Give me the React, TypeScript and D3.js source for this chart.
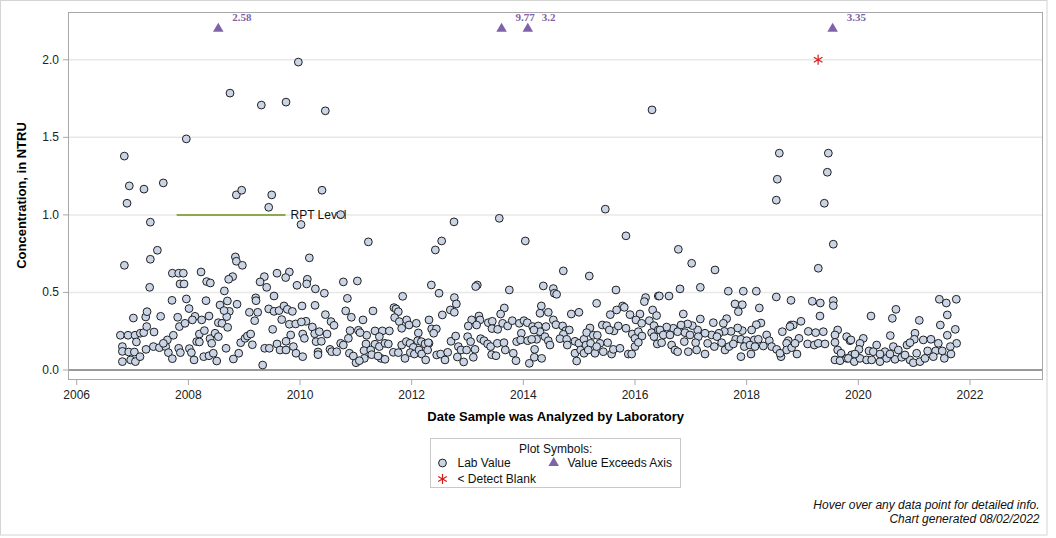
import React from "react";
import * as d3 from "d3";

// ---- data (decimal year, concentration in NTRU) ----
const labSamples: [number, number][] = [
  [2006.853,1.379],[2006.942,1.187],[2007.205,1.166],[2007.551,1.206],[2007.963,1.49],[2008.746,1.785],
  [2008.859,1.129],[2008.955,1.159],[2009.307,1.708],[2009.493,1.129],[2009.749,1.727],[2009.97,1.985],
  [2010.394,1.159],[2010.453,1.671],[2006.901,1.075],[2009.439,1.049],[2007.319,0.953],[2006.854,0.675],
  [2007.319,0.714],[2007.445,0.772],[2007.307,0.533],[2010.018,0.938],[2010.167,0.723],[2010.728,1.002],
  [2008.842,0.729],[2008.86,0.701],[2008.967,0.675],[2007.713,0.624],[2007.827,0.624],[2007.91,0.624],
  [2007.851,0.555],[2007.922,0.555],[2008.227,0.632],[2008.328,0.57],[2008.394,0.561],[2008.794,0.602],
  [2008.722,0.585],[2008.645,0.51],[2009.361,0.602],[2009.284,0.568],[2009.403,0.533],[2009.588,0.624],
  [2009.809,0.632],[2009.743,0.596],[2009.946,0.546],[2010.275,0.523],[2010.131,0.585],[2010.119,0.555],
  [2010.436,0.495],[2010.776,0.568],[2011.027,0.574],[2010.848,0.462],[2007.707,0.449],[2007.964,0.458],
  [2008.316,0.447],[2008.872,0.424],[2008.699,0.445],[2008.567,0.419],[2009.206,0.465],[2009.212,0.447],
  [2009.534,0.477],[2010.269,0.417],[2010.036,0.413],[2010.818,0.381],[2007.236,0.342],[2007.26,0.376],
  [2007.015,0.335],[2007.504,0.346],[2007.809,0.34],[2008.012,0.396],[2008.119,0.346],[2008.072,0.323],
  [2008.239,0.323],[2008.37,0.348],[2008.734,0.378],[2008.687,0.344],[2008.639,0.383],[2009.093,0.372],
  [2009.242,0.372],[2009.188,0.318],[2009.439,0.394],[2009.534,0.378],[2009.624,0.383],[2009.713,0.413],
  [2009.773,0.391],[2009.863,0.378],[2009.672,0.325],[2009.809,0.295],[2009.922,0.297],[2010.107,0.314],
  [2010.024,0.31],[2010.454,0.357],[2010.555,0.312],[2010.609,0.288],[2010.919,0.34],
  [2006.782,0.224],[2006.919,0.224],[2006.818,0.151],[2006.818,0.12],[2006.818,0.054],[2006.931,0.116],
  [2006.967,0.065],[2007.033,0.116],[2007.051,0.054],[2007.045,0.224],[2007.069,0.181],[2007.134,0.086],
  [2007.14,0.237],[2007.2,0.241],[2007.254,0.28],[2007.385,0.245],[2007.242,0.133],[2007.373,0.151],
  [2007.481,0.144],[2007.594,0.151],[2007.624,0.194],[2007.731,0.224],[2007.552,0.172],[2007.642,0.112],
  [2007.713,0.073],[2007.827,0.14],[2007.857,0.112],[2007.839,0.28],[2007.94,0.301],[2008.018,0.138],
  [2008.054,0.112],[2008.102,0.065],[2008.149,0.183],[2008.197,0.232],[2008.197,0.181],[2008.287,0.254],
  [2008.275,0.086],[2008.37,0.092],[2008.447,0.108],[2008.508,0.058],[2008.388,0.202],[2008.418,0.172],
  [2008.478,0.237],[2008.537,0.215],[2008.537,0.305],[2008.603,0.301],[2008.704,0.275],[2008.675,0.14],
  [2008.806,0.071],[2008.902,0.108],[2008.937,0.176],[2009.015,0.204],[2009.057,0.219],[2009.116,0.232],
  [2009.146,0.163],[2009.331,0.032],[2009.367,0.14],[2009.45,0.14],[2009.51,0.262],[2009.588,0.168],
  [2009.642,0.129],[2009.749,0.129],[2009.749,0.185],[2009.833,0.226],[2009.881,0.151],[2009.928,0.108],
  [2010.048,0.086],[2010.048,0.232],[2010.078,0.204],[2010.221,0.277],[2010.263,0.234],[2010.287,0.183],
  [2010.346,0.247],[2010.382,0.185],[2010.322,0.116],[2010.322,0.099],[2010.484,0.232],[2010.537,0.133],
  [2010.567,0.118],[2010.657,0.118],[2010.728,0.172],[2010.776,0.161],[2010.866,0.204],[2010.896,0.254],
  [2010.884,0.108],[2010.955,0.09],[2011.003,0.047],[2011.045,0.256],
  [2011.224,0.826],[2012.758,0.955],[2012.537,0.832],[2012.424,0.774],[2011.839,0.475],[2012.352,0.548],
  [2012.49,0.495],[2012.764,0.467],[2012.8,0.426],[2012.692,0.387],[2012.764,0.372],[2012.549,0.355],
  [2011.307,0.381],[2011.128,0.323],[2011.194,0.224],[2011.683,0.402],[2011.719,0.394],[2011.761,0.376],
  [2011.695,0.338],[2011.779,0.312],[2011.821,0.269],[2011.91,0.323],[2011.952,0.29],[2012.083,0.301],
  [2011.343,0.252],[2011.475,0.252],[2011.6,0.252],[2011.421,0.215],[2012.119,0.239],[2012.31,0.323],
  [2012.358,0.265],[2012.442,0.265],[2012.394,0.237],[2012.31,0.172],[2011.075,0.241],[2011.182,0.168],
  [2011.146,0.125],[2011.343,0.166],[2011.421,0.151],[2011.522,0.172],[2011.582,0.168],[2011.266,0.129],
  [2011.284,0.099],[2011.152,0.075],[2011.063,0.06],[2011.451,0.075],[2011.522,0.069],[2011.397,0.09],
  [2011.671,0.114],[2011.761,0.112],[2011.821,0.161],[2011.904,0.183],[2011.97,0.172],[2012.03,0.146],
  [2012.107,0.189],[2012.173,0.183],[2012.239,0.168],[2012.298,0.176],[2011.88,0.075],[2011.976,0.112],
  [2012.048,0.103],[2012.131,0.129],[2012.179,0.103],[2012.251,0.065],[2012.286,0.129],[2012.448,0.097],
  [2012.519,0.103],[2012.597,0.065],[2012.645,0.114],[2012.704,0.185],[2012.788,0.219],[2012.836,0.151],
  [2012.818,0.084],[2012.931,0.052],[2012.884,0.129],
  [2013.569,0.978],[2014.035,0.832],[2015.468,1.037],[2015.838,0.865],[2014.716,0.639],[2015.181,0.606],
  [2013.175,0.548],[2013.146,0.538],[2013.749,0.516],[2014.358,0.542],[2014.537,0.525],[2014.555,0.495],
  [2014.596,0.488],[2015.659,0.516],[2015.313,0.43],[2016.417,0.477],[2016.19,0.467],[2016.167,0.441],
  [2013.659,0.4],[2013.593,0.361],[2014.322,0.413],[2014.298,0.366],[2014.447,0.372],[2014.859,0.361],
  [2014.996,0.372],[2015.778,0.413],[2015.808,0.404],[2015.557,0.357],[2015.671,0.387],[2015.91,0.357],
  [2016.089,0.361],[2016.316,0.387],[2016.387,0.351],[2013.205,0.348],[2013.074,0.323],[2013.014,0.284],
  [2013.223,0.323],[2013.163,0.29],[2013.372,0.305],[2013.444,0.314],[2013.438,0.267],[2013.54,0.262],
  [2013.629,0.301],[2013.719,0.284],[2013.802,0.318],[2013.928,0.301],[2014.011,0.318],[2014.071,0.305],
  [2014.166,0.28],[2014.268,0.284],[2014.405,0.28],[2014.537,0.323],[2014.584,0.292],[2014.704,0.284],
  [2014.764,0.254],[2014.823,0.258],[2014.298,0.247],[2014.19,0.258],[2013.964,0.237],[2014.238,0.198],
  [2014.387,0.215],[2014.447,0.189],[2014.716,0.23],[2014.656,0.202],[2014.776,0.198],[2014.925,0.185],
  [2014.996,0.172],[2015.086,0.198],[2015.193,0.271],[2015.134,0.241],[2015.253,0.224],[2015.325,0.224],
  [2015.415,0.29],[2015.492,0.286],[2015.623,0.252],[2015.54,0.258],[2015.373,0.172],[2015.51,0.176],
  [2015.701,0.284],[2015.838,0.269],[2015.952,0.232],[2016.0,0.204],[2016.06,0.247],[2016.125,0.219],
  [2016.017,0.323],[2016.119,0.301],[2016.256,0.318],[2016.34,0.286],[2016.298,0.241],[2016.417,0.258],
  [2013.002,0.215],[2013.056,0.183],[2013.134,0.133],[2012.984,0.129],[2013.104,0.082],[2013.235,0.202],
  [2013.295,0.189],[2013.36,0.168],[2013.414,0.151],[2013.432,0.099],[2013.51,0.092],[2013.534,0.172],
  [2013.653,0.176],[2013.677,0.129],[2013.82,0.108],[2013.868,0.06],[2013.88,0.183],[2013.952,0.194],
  [2014.077,0.189],[2014.149,0.198],[2014.202,0.133],[2014.196,0.082],[2014.107,0.043],[2014.328,0.075],
  [2014.477,0.161],[2014.787,0.161],[2014.925,0.108],[2014.955,0.058],[2015.026,0.129],[2015.086,0.108],
  [2015.122,0.161],[2015.205,0.172],[2015.163,0.129],[2015.283,0.108],[2015.313,0.151],[2015.432,0.118],
  [2015.581,0.103],[2015.612,0.133],[2015.731,0.14],[2015.88,0.103],[2015.94,0.103],[2016.0,0.151],
  [2016.06,0.178],[2016.34,0.215],[2016.399,0.168],
  [2016.305,1.677],[2018.585,1.398],[2019.463,1.398],[2018.549,1.23],[2019.445,1.275],[2018.531,1.095],
  [2019.391,1.075],[2019.552,0.811],[2019.283,0.656],[2016.776,0.778],[2017.015,0.688],[2017.433,0.645],
  [2016.806,0.523],[2017.17,0.533],[2016.436,0.477],[2016.609,0.477],[2017.671,0.508],[2017.94,0.508],
  [2018.173,0.508],[2018.531,0.471],[2018.794,0.449],[2019.176,0.443],[2019.319,0.432],[2019.552,0.447],
  [2019.552,0.415],[2017.791,0.426],[2017.922,0.421],[2017.851,0.376],[2018.227,0.4],[2019.313,0.348],
  [2016.865,0.361],[2017.17,0.329],[2017.642,0.331],[2017.582,0.301],[2017.403,0.305],[2018.973,0.314],
  [2018.794,0.29],[2018.836,0.29],[2018.256,0.303],[2018.173,0.292],[2018.089,0.258],[2017.922,0.254],
  [2017.839,0.271],[2017.719,0.249],[2017.6,0.249],[2017.504,0.237],[2017.373,0.226],[2017.254,0.237],
  [2017.122,0.258],[2017.027,0.286],[2016.943,0.297],[2016.824,0.29],[2016.686,0.269],[2016.567,0.277],
  [2016.448,0.258],[2016.507,0.226],[2016.627,0.226],[2016.764,0.247],[2016.895,0.241],[2016.985,0.226],
  [2017.134,0.215],[2017.468,0.215],[2017.803,0.198],[2017.898,0.198],[2018.0,0.189],[2018.137,0.194],
  [2018.209,0.198],[2018.358,0.226],[2018.406,0.189],[2018.639,0.247],[2018.776,0.28],[2018.746,0.189],
  [2018.937,0.204],[2019.104,0.249],[2019.236,0.241],[2019.373,0.247],[2019.63,0.258],[2019.582,0.226],
  [2019.791,0.215],[2019.851,0.189],[2016.477,0.176],[2016.656,0.161],[2016.716,0.129],[2016.764,0.118],
  [2016.883,0.183],[2016.955,0.118],[2017.086,0.176],[2017.104,0.129],[2017.254,0.103],[2017.301,0.172],
  [2017.421,0.151],[2017.552,0.176],[2017.612,0.129],[2017.684,0.151],[2017.761,0.168],[2017.898,0.086],
  [2017.958,0.151],[2018.06,0.161],[2018.078,0.103],[2018.149,0.151],[2018.298,0.155],[2018.448,0.151],
  [2018.537,0.133],[2018.615,0.086],[2018.597,0.108],[2018.716,0.172],[2018.716,0.129],[2018.806,0.144],
  [2018.901,0.103],[2018.866,0.172],[2019.092,0.168],[2019.212,0.161],[2019.283,0.172],[2019.403,0.168],
  [2019.582,0.178],[2019.63,0.129],[2019.69,0.108],[2019.582,0.065],[2019.672,0.06],[2019.791,0.075],
  [2019.88,0.097],[2019.91,0.065],
  [2021.451,0.456],[2021.576,0.432],[2021.755,0.456],[2020.674,0.391],[2020.609,0.333],[2020.227,0.348],
  [2021.092,0.32],[2021.594,0.355],[2021.469,0.29],[2021.737,0.262],[2021.594,0.224],[2021.761,0.172],
  [2020.573,0.222],[2021.015,0.237],[2021.003,0.198],[2021.164,0.194],[2021.301,0.198],[2021.433,0.172],
  [2021.648,0.151],[2020.089,0.204],[2020.03,0.172],[2019.868,0.194],[2020.012,0.133],[2020.328,0.161],
  [2020.627,0.151],[2020.716,0.129],[2020.872,0.161],[2020.925,0.176],[2020.477,0.118],[2020.191,0.123],
  [2020.268,0.118],[2021.242,0.123],[2021.385,0.123],[2021.504,0.123],[2021.66,0.103],[2019.821,0.075],
  [2019.928,0.054],[2020.03,0.075],[2020.149,0.065],[2020.239,0.065],[2020.388,0.054],[2020.507,0.075],
  [2020.657,0.069],[2020.776,0.082],[2020.925,0.065],[2020.985,0.047],[2021.104,0.054],[2021.194,0.075],
  [2021.343,0.086],[2021.54,0.075],[2019.94,0.103],[2020.567,0.103],[2020.836,0.097],[2021.045,0.108],
  [2020.388,0.103],
];

const exceedDates = [2008.536, 2013.61, 2014.08, 2019.54];
const exceedValues = [2.58, 9.77, 3.2, 3.35];
const exceedPlotAt = 2.2;

const blankDates = [2019.28];
const blankValues = [2.0];

const rptLevel = 1.0;
const rptStart = 2007.79;
const rptEnd = 2009.74;

const xTicks = [2006, 2008, 2010, 2012, 2014, 2016, 2018, 2020, 2022];
const yTicks = [0, 0.5, 1.0, 1.5, 2.0];

const W = 1056, H = 538;
const L = 68, R = 1043, T = 12, B = 379;

const FONT = "'Liberation Sans', Arial, sans-serif";

function asterisk(cx: number, cy: number, r: number, color: string, key?: string) {
  const angles = [90, 30, 150];
  return (
    <g key={key}>
      {angles.map((a) => {
        const rad = (a * Math.PI) / 180;
        const dx = Math.cos(rad) * r, dy = Math.sin(rad) * r;
        return <line key={a} x1={cx - dx} y1={cy - dy} x2={cx + dx} y2={cy + dy} stroke={color} strokeWidth={1.2} />;
      })}
    </g>
  );
}

export default function App() {
  const x = d3.scaleLinear().domain([2005.844, 2023.308]).range([L, R]);
  const y = d3.scaleLinear().domain([-0.058, 2.308]).range([B, T]);
  const tri = d3.symbol().type(d3.symbolTriangle).size(48)()!;
  const purple = "#7f62a8";
  const circFill = "#c9d5e6";
  const circStroke = "#1f1f1f";

  return (
    <svg width={W} height={H} style={{ position: "absolute", left: 0, top: 0, background: "#fff" }} fontFamily={FONT}>
      <rect x={0.5} y={0.5} width={1046.5} height={534.5} fill="#fff" stroke="#d4d4d4" />
      {/* grid */}
      {yTicks.filter((t) => t > 0).map((t) => (
        <line key={t} x1={L + 1} x2={R - 1} y1={y(t)} y2={y(t)} stroke="#e8e8e8" strokeWidth={1.5} />
      ))}
      {/* zero line */}
      <line x1={L + 1} x2={R - 1} y1={y(0)} y2={y(0)} stroke="#9a9a9a" strokeWidth={2} />
      {/* frame */}
      <rect x={L + 0.5} y={T + 0.5} width={R - L - 1} height={B - T} fill="none" stroke="#a8a8a8" />
      {/* x axis ticks */}
      {xTicks.map((t) => (
        <g key={t}>
          <line x1={x(t)} x2={x(t)} y1={B + 0.5} y2={B + 6} stroke="#a8a8a8" />
          <text x={x(t)} y={395} textAnchor="middle" dominantBaseline="central" fontSize={12} fill="#222">{t}</text>
        </g>
      ))}
      {/* y axis ticks */}
      {yTicks.map((t) => (
        <g key={t}>
          <line x1={L - 5} x2={L} y1={y(t)} y2={y(t)} stroke="#a8a8a8" />
          <text x={L - 9} y={y(t)} textAnchor="end" dominantBaseline="central" fontSize={12} fill="#222">{t.toFixed(1)}</text>
        </g>
      ))}
      {/* axis titles */}
      <text x={555.7} y={416.5} textAnchor="middle" dominantBaseline="central" fontSize={13} fontWeight="bold" fill="#000">
        Date Sample was Analyzed by Laboratory
      </text>
      <text transform={`translate(21,${(T + B) / 2}) rotate(-90)`} textAnchor="middle" dominantBaseline="central" fontSize={13} fontWeight="bold" fill="#000">
        Concentration, in NTRU
      </text>
      {/* RPT level */}
      <line x1={x(rptStart)} x2={x(rptEnd)} y1={y(rptLevel)} y2={y(rptLevel)} stroke="#8aaa4c" strokeWidth={2} />
      <text x={x(rptEnd) + 5} y={y(rptLevel)} dominantBaseline="central" fontSize={12} fill="#111">RPT Level</text>
      {/* lab values */}
      {labSamples.map(([d, v], i) => (
        <circle key={i} cx={x(d)} cy={y(v)} r={3.9} fill={circFill} stroke={circStroke} strokeWidth={1} />
      ))}
      {/* exceed markers */}
      {exceedDates.map((d, i) => (
        <g key={i}>
          <path d={tri} transform={`translate(${x(d)},${y(exceedPlotAt)})`} fill={purple} />
          <text x={x(d) + 14} y={y(exceedPlotAt) - 11.5} dominantBaseline="central" fontSize={11} fontWeight="bold"
            fontFamily="'Liberation Serif', 'Times New Roman', serif" fill={purple}>{exceedValues[i]}</text>
        </g>
      ))}
      {/* detect blank */}
      {blankDates.map((d, i) => asterisk(x(d), y(blankValues[i]), 5, "#d61a1a", "b" + i))}
      {/* legend */}
      <rect x={430.5} y={438.5} width={250} height={49} fill="#fff" stroke="#c8c8c8" />
      <text x={555.7} y={448.5} textAnchor="middle" dominantBaseline="central" fontSize={12} fill="#111">Plot Symbols:</text>
      <circle cx={442.5} cy={463} r={3.9} fill={circFill} stroke={circStroke} />
      <text x={457.5} y={463} dominantBaseline="central" fontSize={12} fill="#111">Lab Value</text>
      <path d={tri} transform={`translate(553.7,463)`} fill={purple} />
      <text x={567.5} y={463} dominantBaseline="central" fontSize={12} fill="#111">Value Exceeds Axis</text>
      {asterisk(442.5, 479, 5, "#d61a1a", "leg")}
      <text x={457.5} y={479} dominantBaseline="central" fontSize={12} fill="#111">&lt; Detect Blank</text>
      {/* footer */}
      <text x={1039.5} y={505} textAnchor="end" dominantBaseline="central" fontSize={12} fontStyle="italic" fill="#111">
        Hover over any data point for detailed info.
      </text>
      <text x={1039.5} y={518.5} textAnchor="end" dominantBaseline="central" fontSize={12} fontStyle="italic" fill="#111">
        Chart generated 08/02/2022
      </text>
    </svg>
  );
}
